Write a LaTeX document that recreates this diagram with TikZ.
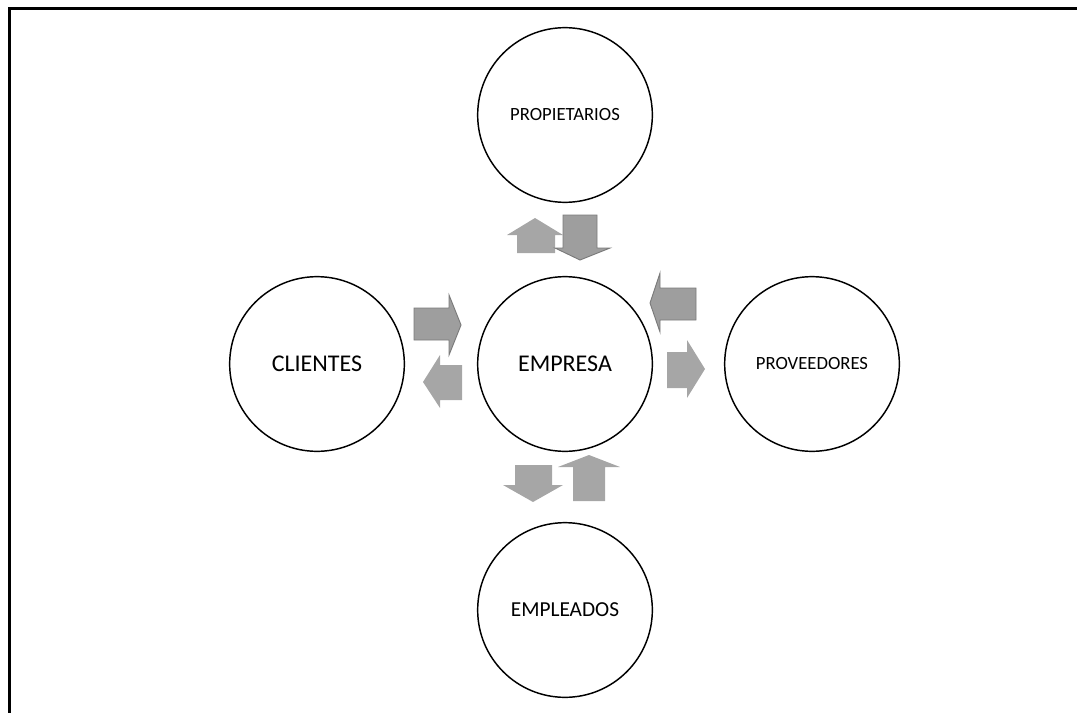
\documentclass[tikz,border=0pt]{standalone}
\usepackage{fontspec}
\setmainfont{Carlito}
\usetikzlibrary{positioning}

\tikzset{
  bubble/.style={circle, draw, line width=1.1pt, minimum size=131pt, inner sep=0pt, fill=white},
  paler/.style={fill=gray!70},
  darker/.style={fill=gray!76, draw=black!52, line width=0.7pt}
}

\begin{document}
\begin{tikzpicture}[x=0.75pt, y=-0.75pt]

    \useasboundingbox (0,0) rectangle (1077,713);

    % Frame
    \draw[line width=1.6pt] (9.5,713) -- (9.5,8.5) -- (1077,8.5);

    % Nodes
    \node[bubble, font=\fontsize{18}{20}\selectfont] (empresa) at (565,364) {EMPRESA};
    \node[bubble, font=\fontsize{14}{16}\selectfont] (propietarios) at (565,115) {PROPIETARIOS};
    \node[bubble, font=\fontsize{18}{20}\selectfont] (clientes) at (317,364) {CLIENTES};
    \node[bubble, font=\fontsize{14}{16}\selectfont] (proveedores) at (812,364) {PROVEEDORES};
    \node[bubble, font=\fontsize{16}{18}\selectfont] (empleados) at (565,610) {EMPLEADOS};

    % Arrows top
    \fill[paler] (517,253) -- (517,235) -- (507,235) -- (535,218) -- (563,235) -- (555,235) -- (555,253) -- cycle;
    \draw[darker] (563,215) -- (597,215) -- (597,248) -- (610,248) -- (580,260) -- (555,248) -- (563,248) -- cycle;

    % Arrows left
    \draw[darker] (414,308) -- (449,308) -- (449,295) -- (461,325) -- (449,355) -- (449,340) -- (414,340) -- cycle;
    \fill[paler] (462,365) -- (440,365) -- (440,355) -- (423,382) -- (440,408) -- (440,400) -- (462,400) -- cycle;

    % Arrows right
    \draw[darker] (696,288) -- (660,288) -- (660,273) -- (650,303) -- (660,332) -- (660,320) -- (696,320) -- cycle;
    \fill[paler] (667,352) -- (687,352) -- (687,340) -- (705,369) -- (687,398) -- (687,388) -- (667,388) -- cycle;

    % Arrows bottom
    \fill[paler] (515,465) -- (552,465) -- (552,485) -- (563,485) -- (533,502) -- (503,485) -- (515,485) -- cycle;
    \fill[paler] (573,501) -- (573,467) -- (558,467) -- (589,455) -- (620,467) -- (605,467) -- (605,501) -- cycle;

\end{tikzpicture}
\end{document}
